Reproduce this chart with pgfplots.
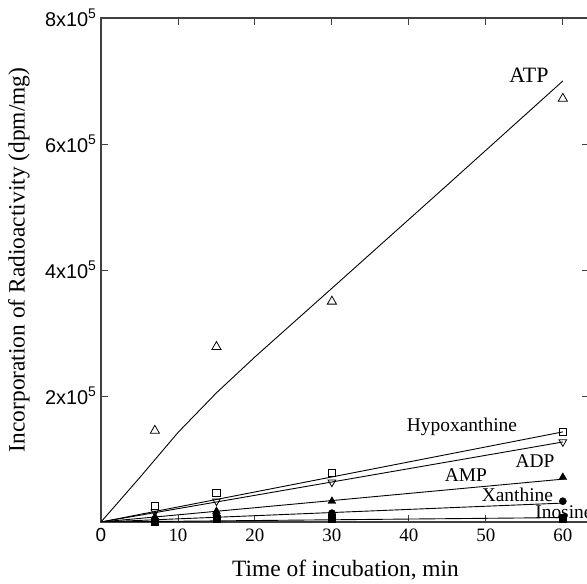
\documentclass[border=0pt]{standalone}
\usepackage{fontspec}
\setmainfont{Liberation Serif}
\newfontfamily\hv{Liberation Sans}
\usepackage{pgfplots}
\pgfplotsset{compat=1.18}
\begin{document}
\begin{tikzpicture}
\begin{axis}[
  scale only axis, width=488bp, height=504bp,
  xmin=0, xmax=63.4, ymin=0, ymax=800000,
  axis line style={line width=1.2bp, color=black!75},
  tick style={line width=0.9bp, color=black!75},
  tick align=inside, major tick length=7bp,
  xtick={0,10,20,30,40,50,60},
  xticklabels={{\hv 0},10,20,30,40,50,60},
  ytick={0,200000,400000,600000,800000},
  yticklabels={,{2x10\textsuperscript{5}},{4x10\textsuperscript{5}},{6x10\textsuperscript{5}},{8x10\textsuperscript{5}}},
  scaled y ticks=false,
  xticklabel style={font=\fontsize{19}{19}\selectfont, yshift=-3bp},
  yticklabel style={font=\fontsize{20}{20}\hv, xshift=-1bp},
  xlabel={Time of incubation, min},
  ylabel={Incorporation of Radioactivity (dpm/mg)},
  xlabel style={font=\fontsize{23.5}{24}\selectfont, at={(axis description cs:0.501,-0.109)}, anchor=base},
  ylabel style={font=\fontsize{23.5}{24}\selectfont, at={(axis description cs:-0.168,0.52)}, anchor=center},
  clip mode=individual,
]
\coordinate (ll) at (rel axis cs:0,0);
\coordinate (ur) at (rel axis cs:1,1);
% fitted lines
\addplot[black, line width=0.9bp] coordinates {(0,0) (5,70000) (10,142000) (15,205000) (20,262000) (30,371000) (45,535000) (60,700000)};
\addplot[black, line width=0.9bp] coordinates {(0,0) (60,143000)};
\addplot[black, line width=0.9bp] coordinates {(0,0) (60,127000)};
\addplot[black, line width=0.9bp] coordinates {(0,0) (60,68000)};
\addplot[black, line width=0.9bp] coordinates {(0,0) (60,30000)};
\addplot[black, line width=0.9bp] coordinates {(0,0) (60,7000)};
% data points
\addplot[only marks, mark=triangle, mark size=5.3bp, mark options={black, line width=0.8bp}] coordinates {(7,145000) (15,278000) (30,350000) (60,672000)};
\addplot[only marks, mark=square, mark size=3.6bp, mark options={black, fill=white, line width=0.8bp}] coordinates {(7,25000) (15,46000) (30,78000) (60,143000)};
\addplot[only marks, mark=triangle, mark size=4.4bp, mark options={black, fill=white, rotate=180, line width=0.8bp}] coordinates {(7,16000) (15,33000) (30,63000) (60,127000)};
\addplot[only marks, mark=triangle*, mark size=4.5bp, mark options={black, fill=black}] coordinates {(7,8000) (15,17000) (30,33000) (60,71000)};
\addplot[only marks, mark=*, mark size=3.6bp, mark options={black, fill=black}] coordinates {(7,3000) (15,11000) (30,14000) (60,33000)};
\addplot[only marks, mark=square*, mark size=3.6bp, mark options={black, fill=black}] coordinates {(7,1000) (15,5000) (30,6000) (60,6000)};
% labels
\node[anchor=base, font=\fontsize{22}{22}\selectfont] at (axis cs:55.6,698000) {ATP};
\node[anchor=base, font=\fontsize{19.5}{20}\selectfont] at (axis cs:46.9,143000) {Hypoxanthine};
\node[anchor=base, font=\fontsize{19.5}{20}\selectfont] at (axis cs:56.4,85700) {ADP};
\node[anchor=base, font=\fontsize{19.5}{20}\selectfont] at (axis cs:47.4,63500) {AMP};
\node[anchor=base, font=\fontsize{19.5}{20}\selectfont] at (axis cs:54.1,33300) {Xanthine};
\node[anchor=base west, inner sep=0pt, font=\fontsize{19.5}{20}\selectfont] at (axis cs:56.4,6300) {Inosine};
\end{axis}
\pgfresetboundingbox
\path ([xshift=-101bp,yshift=-62bp]ll) rectangle ([xshift=-2bp,yshift=18bp]ur);
\end{tikzpicture}
\end{document}
